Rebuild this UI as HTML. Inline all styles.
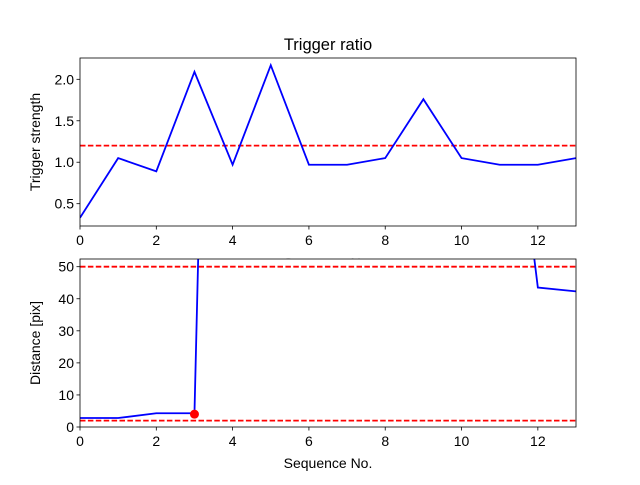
<!DOCTYPE html>
<html><head><meta charset="utf-8"><style>
body{margin:0;background:#fff}
svg{font-family:"Liberation Sans","DejaVu Sans",sans-serif}
</style></head><body>
<svg id="c" width="640" height="480" viewBox="0 0 640 480">
<defs>
<clipPath id="clip1"><rect x="80" y="58" width="496" height="168"/></clipPath>
<clipPath id="clip2"><rect x="80" y="259" width="496" height="168"/></clipPath>
</defs>
<rect width="640" height="480" fill="#fff"/>
<text x="328" y="50" text-anchor="middle" font-size="16.5">Trigger ratio</text>
<g id="g1"></g>
<g id="g2"></g>
</svg>
<script>
const seq = [0,1,2,3,4,5,6,7,8,9,10,11,12,13];
const strength = [0.33,1.05,0.89,2.09,0.97,2.17,0.97,0.97,1.05,1.76,1.05,0.97,0.97,1.05];
const strengthThreshold = [1.2];
const distance = [2.8,2.8,4.3,4.3,500,500,500,500,500,500,500,140,43.5,42.3];
const distanceThresholds = [2,50];
const marker = [3,4.0];
const xTicks = [0,2,4,6,8,10,12];
const yTicks1 = [0.5,1.0,1.5,2.0];
const yTicks1Labels = ["0.5","1.0","1.5","2.0"];
const yTicks2 = [0,10,20,30,40,50];

const NS="http://www.w3.org/2000/svg";
const FS='14';
function mk(p,tag,attrs){const e=document.createElementNS(NS,tag);for(const k in attrs)e.setAttribute(k,attrs[k]);p.appendChild(e);return e;}
function axes(g,top,ymin,ymax,yt,ytl,ylabel,prefix){
  const L=80,R=576,B=top+168;
  const sx=v=>L+(v-0)/13*(R-L);
  const sy=v=>B-(v-ymin)/(ymax-ymin)*168;
  const bg=mk(g,'rect',{x:L,y:top,width:R-L,height:168,fill:'#fff'});
  
  
  xTicks.forEach(t=>{
    const l=mk(g,'line',{x1:sx(t),x2:sx(t),y1:B,y2:B+3.5,stroke:'#000','stroke-width':0.8});
    
    
    const tx=mk(g,'text',{x:sx(t),y:B+19,'text-anchor':'middle','font-size':FS});tx.textContent=t;
    
    
  });
  yt.forEach((t,i)=>{
    const l=mk(g,'line',{x1:L-3.5,x2:L,y1:sy(t),y2:sy(t),stroke:'#000','stroke-width':0.8});
    
    
    const tx=mk(g,'text',{x:L-6,y:sy(t)+5,'text-anchor':'end','font-size':FS});tx.textContent=ytl?ytl[i]:t;
    
    
  });
  const yl=mk(g,'text',{x:0,y:0,'text-anchor':'middle','font-size':FS,transform:`translate(${L-40},${top+84}) rotate(-90)`});
  yl.textContent=ylabel;
  
  
  return {sx,sy,L,R,B};
}
function frame(g,top,prefix){
  const r=mk(g,'rect',{x:80,y:top,width:496,height:168,fill:'none',stroke:'#000','stroke-width':0.8});
  
  
}
const g1=document.getElementById('g1'),g2=document.getElementById('g2');
// top
const a1=axes(g1,58,0.231,2.257,yTicks1,yTicks1Labels,'Trigger strength','top');
const c1=mk(g1,'g',{'clip-path':'url(#clip1)'});
strengthThreshold.forEach(v=>{
  const l=mk(c1,'line',{x1:80,x2:576,y1:a1.sy(v),y2:a1.sy(v),stroke:'#f00','stroke-width':1.8,'stroke-dasharray':'5.5,2.4'});
  
  
});
const p1=mk(c1,'polyline',{points:seq.map((x,i)=>a1.sx(x)+','+a1.sy(strength[i])).join(' '),fill:'none',stroke:'#00f','stroke-width':1.8});


frame(g1,58,'top');
const xl1=mk(g1,'text',{x:328,y:268,'text-anchor':'middle','font-size':FS});xl1.textContent='Sequence No.';


// bottom
const a2=axes(g2,259,0,52.4,yTicks2,null,'Distance [pix]','bottom');
const c2=mk(g2,'g',{'clip-path':'url(#clip2)'});
distanceThresholds.forEach(v=>{
  const l=mk(c2,'line',{x1:80,x2:576,y1:a2.sy(v),y2:a2.sy(v),stroke:'#f00','stroke-width':1.8,'stroke-dasharray':'5.5,2.4'});
  
  
});
const p2=mk(c2,'polyline',{points:seq.map((x,i)=>a2.sx(x)+','+a2.sy(distance[i])).join(' '),fill:'none',stroke:'#00f','stroke-width':1.8});


const dot=mk(c2,'circle',{cx:a2.sx(marker[0]),cy:a2.sy(marker[1]),r:4.5,fill:'#f00'});


frame(g2,259,'bottom');
const xl2=mk(g2,'text',{x:328,y:468,'text-anchor':'middle','font-size':FS});xl2.textContent='Sequence No.';


</script>
</body></html>
